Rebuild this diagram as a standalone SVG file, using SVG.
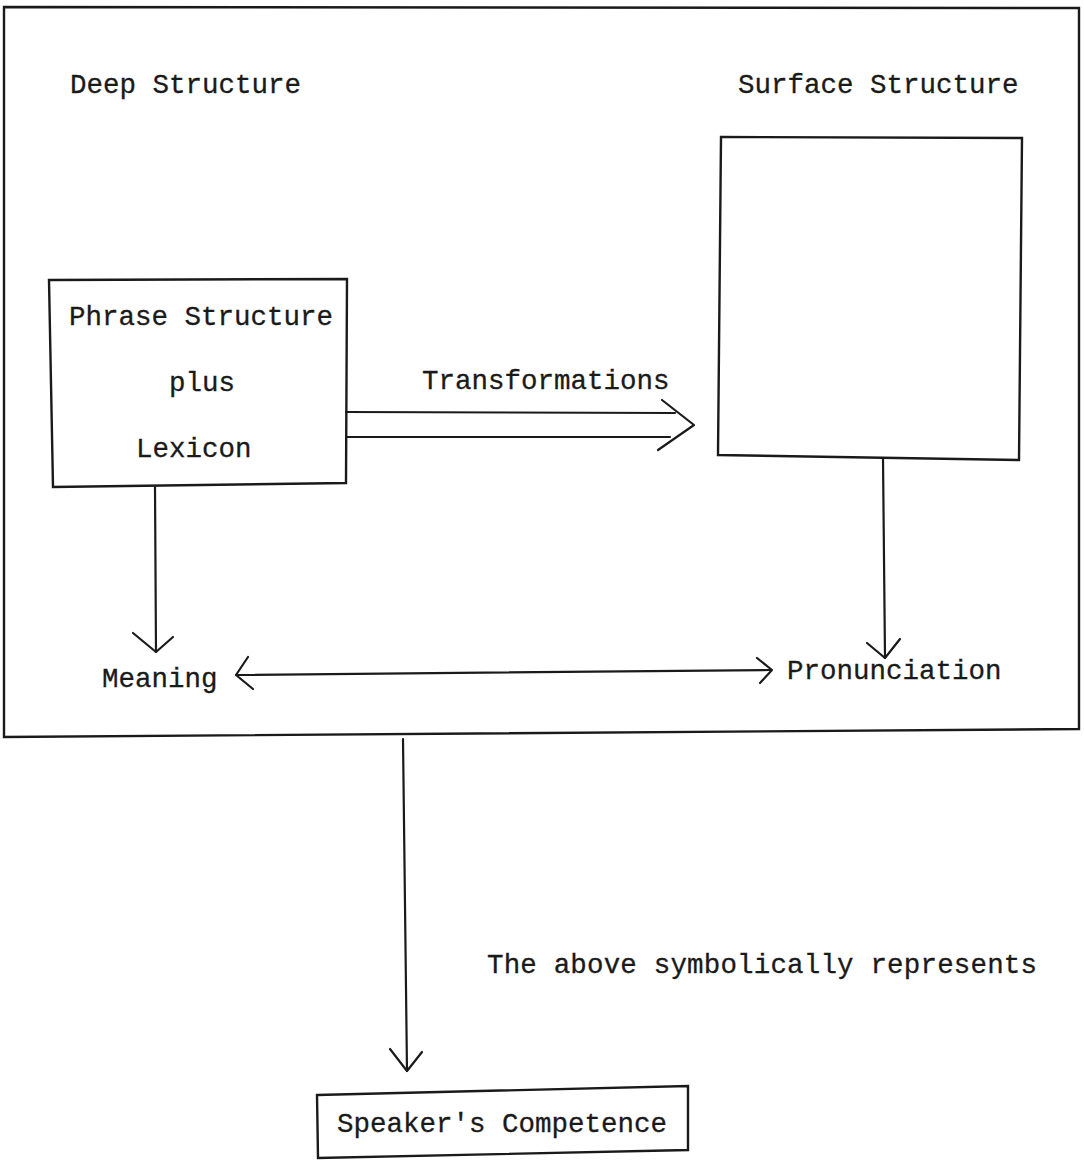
<svg xmlns="http://www.w3.org/2000/svg" width="1084" height="1160" viewBox="0 0 1084 1160">
  <style>
    .t { font-family: "Liberation Mono", "Courier New", monospace; font-size: 27.5px; fill: #1a1a1a; stroke: #1a1a1a; stroke-width: 0.3px; }
    .box { fill: none; stroke: #1a1a1a; stroke-width: 2.4; stroke-linejoin: miter; }
    .ln { fill: none; stroke: #1a1a1a; stroke-width: 2.2; stroke-linecap: round; stroke-linejoin: round; }
  </style>
  <rect width="1084" height="1160" fill="#ffffff"/>

  <g id="outer-frame">
    <path class="box" d="M4,7 L1079,8 L1079,729 L4,737 Z"/>
  </g>

  <g id="deep-structure">
    <text class="t" x="70" y="93">Deep Structure</text>
  </g>

  <g id="surface-structure">
    <text class="t" x="738" y="93">Surface Structure</text>
    <path class="box" d="M721,137 L1022,138 L1019,460 L718,455 Z"/>
  </g>

  <g id="phrase-structure">
    <path class="box" d="M49,280 L347,279 L346,483 L53,487 Z"/>
    <text class="t" x="69" y="325">Phrase Structure</text>
    <text class="t" x="169" y="391">plus</text>
    <text class="t" x="136" y="457">Lexicon</text>
  </g>

  <g id="transformations-label">
    <text class="t" x="422" y="389">Transformations</text>
  </g>

  <g id="meaning">
    <text class="t" x="102" y="687">Meaning</text>
  </g>

  <g id="pronunciation">
    <text class="t" x="787" y="679">Pronunciation</text>
  </g>

  <g id="note">
    <text class="t" x="487" y="973" textLength="550">The above symbolically represents</text>
  </g>

  <g id="speakers-competence">
    <path class="box" d="M317,1095 L688,1086 L688,1150 L318,1158 Z"/>
    <text class="t" x="337" y="1132">Speaker's Competence</text>
  </g>

  <g id="connectors">
    <path class="ln" d="M346,412 L675,413"/>
    <path class="ln" d="M346,437 L670,437"/>
    <path class="ln" d="M662,400 L694,425 L658,450"/>
    <path class="ln" d="M155,487 L156,652"/>
    <path class="ln" d="M133,633 L156,652 L173,637"/>
    <path class="ln" d="M883,458 L885,658"/>
    <path class="ln" d="M867,643 L885,658 L900,639"/>
    <path class="ln" d="M236,675 L771,670"/>
    <path class="ln" d="M248,657 L236,675 L253,689"/>
    <path class="ln" d="M757,658 L772,670 L760,683"/>
    <path class="ln" d="M403,739 L407,1071"/>
    <path class="ln" d="M390,1049 L407,1071 L422,1052"/>
  </g>
</svg>
